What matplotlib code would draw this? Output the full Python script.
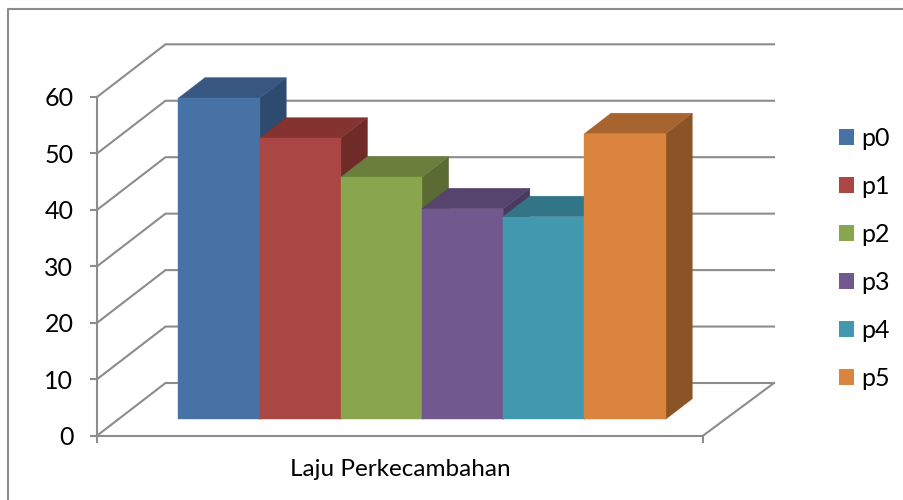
#!/usr/bin/env python3
"""3D looking bar chart of Laju Perkecambahan, drawn with sheared 2D polygons"""

import matplotlib
matplotlib.use('Agg')
import matplotlib.pyplot as plt
from matplotlib.lines import Line2D
from matplotlib.patches import Patch, Polygon

categories = ['p0', 'p1', 'p2', 'p3', 'p4', 'p5']
values = [56.9, 49.8, 42.9, 37.3, 35.9, 50.6]
y_ticks = [0, 10, 20, 30, 40, 50, 60]
x_label = 'Laju Perkecambahan'

front_colors = ['#4672A6', '#AA4643', '#89A54E', '#71588F', '#4198AF', '#DB843D']
top_colors = ['#375780', '#843331', '#6A7F3C', '#56436E', '#327587', '#A8642F']
side_colors = ['#2E4A6F', '#6E2B28', '#5A6B34', '#4A3A60', '#2C6476', '#8B5426']

W, H = 904, 500
GRAY = '#8C8C8C'
LW = 1.5

# axis box in pixels, one x unit is one bar width
LEFT, RIGHT = 97.0, 703.0
BOTTOM, TOP = 435.7, 97.0
BAR_PX = 81.2
VAL_PX = (BOTTOM - TOP) / 60.0

# full depth of the floor in pixels
DEPTH_X, DEPTH_Y = 68.5, 52.7
BAR_D0, BAR_D1 = 0.31, 0.70
GAP = 0.74
BACK_EXTRA = 2.5 / BAR_PX  # back wall runs slightly past the floor edge


def project(x, v, d):
    """Shift a point (x units, value, depth 0..1) back into the depth direction"""
    return x + d * DEPTH_X / BAR_PX, v + d * DEPTH_Y / VAL_PX


def face(ax, pts, color, zorder):
    ax.add_patch(Polygon(pts, closed=True, facecolor=color, edgecolor=color,
                         linewidth=0.3, clip_on=False, zorder=zorder))


def main():
    plt.rcParams['font.family'] = ['Lato', 'DejaVu Sans']
    fig = plt.figure(figsize=(W / 100, H / 100), dpi=100)

    ax = fig.add_axes([LEFT / W, 1 - BOTTOM / H, (RIGHT - LEFT) / W, (BOTTOM - TOP) / H])
    x_max = (RIGHT - LEFT) / BAR_PX
    ax.set_xlim(0, x_max)
    ax.set_ylim(0, 60)
    ax.patch.set_visible(False)

    for name in ['top', 'right']:
        ax.spines[name].set_visible(False)
    for name in ['left', 'bottom']:
        ax.spines[name].set_color(GRAY)
        ax.spines[name].set_linewidth(LW)

    ax.set_yticks(y_ticks)
    ax.set_xticks([0, x_max])
    ax.set_xticklabels([])
    ax.tick_params(axis='y', length=5, width=LW, color=GRAY, labelsize=18, pad=12,
                   labelcolor='black')
    ax.tick_params(axis='x', length=5, width=LW, color=GRAY)

    # side wall and back wall gridlines
    for v in y_ticks:
        bx, by = project(0, v, 1)
        ex, ey = project(x_max + BACK_EXTRA, v, 1)
        ax.plot([0, bx, ex], [v, by, ey], color=GRAY, lw=LW, clip_on=False, zorder=1,
                solid_joinstyle='miter')

    # right edge of the floor
    ex, ey = project(x_max + BACK_EXTRA, 0, 1)
    ax.plot([x_max, ex], [0, ey], color=GRAY, lw=LW, clip_on=False, zorder=1)

    # bars, left to right so the next front hides the previous side
    for i, val in enumerate(values):
        x0, x1 = GAP + i, GAP + i + 1
        z = 3 + i
        face(ax, [project(x1, 0, BAR_D0), project(x1, 0, BAR_D1),
                  project(x1, val, BAR_D1), project(x1, val, BAR_D0)], side_colors[i], z)
        face(ax, [project(x0, val, BAR_D0), project(x1, val, BAR_D0),
                  project(x1, val, BAR_D1), project(x0, val, BAR_D1)], top_colors[i], z)
        face(ax, [project(x0, 0, BAR_D0), project(x1, 0, BAR_D0),
                  project(x1, val, BAR_D0), project(x0, val, BAR_D0)], front_colors[i], z)

    # chart frame, only top and left show in the crop
    fig.add_artist(Line2D([7.5 / W, 7.5 / W, 1], [0, 1 - 8.5 / H, 1 - 8.5 / H],
                          color=GRAY, lw=LW))

    fig.text(400 / W, 1 - 469 / H, x_label, ha='center', va='center', fontsize=17.5,
             color='black')

    handles = [Patch(facecolor=c, edgecolor=c, linewidth=0) for c in front_colors]
    fig.legend(handles, categories, loc='center left', bbox_to_anchor=(839 / W, 1 - 258 / H),
               frameon=False, fontsize=18, handlelength=0.6, handleheight=0.6,
               handletextpad=0.28, labelspacing=1.0, borderpad=0, borderaxespad=0)

    fig.savefig('out.png', dpi=100)


if __name__ == "__main__":
    main()
